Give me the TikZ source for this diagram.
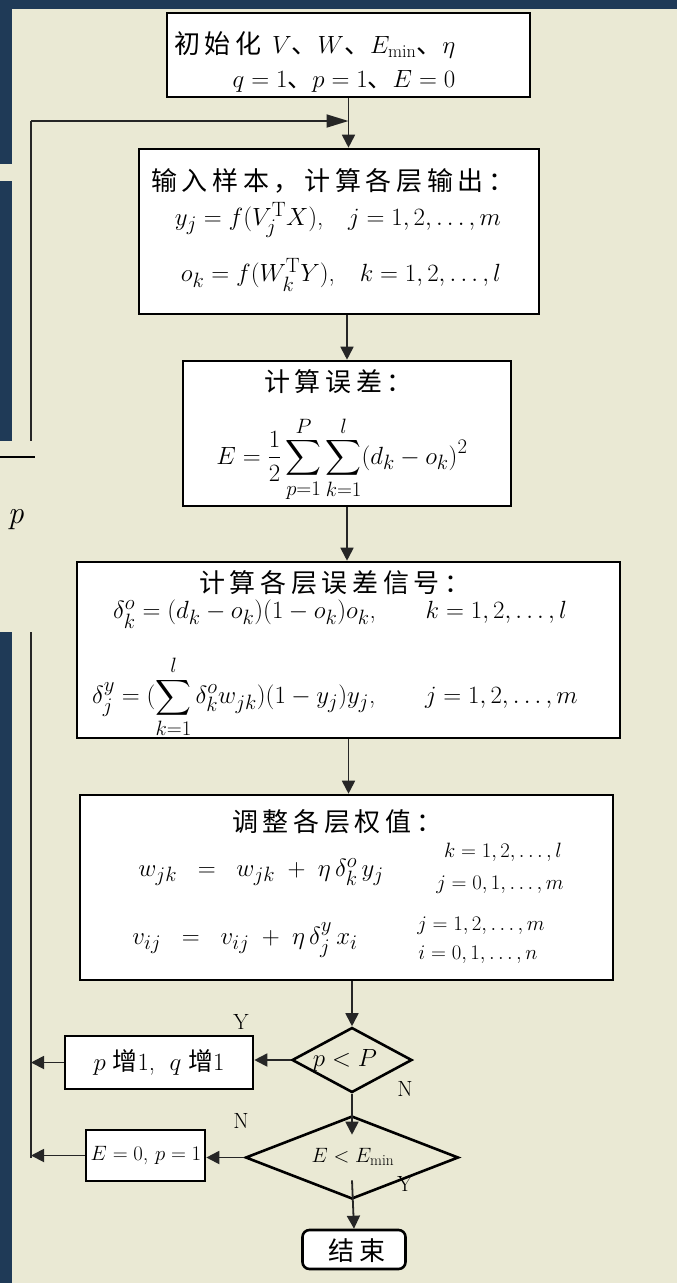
\documentclass[tikz,border=0pt]{standalone}
\usepackage{amsmath}
\usepackage{amsfonts}
\usepackage{fontspec}
\newfontfamily\cjk[LetterSpace=18]{Noto Sans CJK SC}
\usetikzlibrary{arrows.meta,shapes.geometric}
\definecolor{slide}{RGB}{234,233,212}
\definecolor{navy}{RGB}{31,58,87}
\newcommand{\dun}{{\cjk 、}}

\begin{document}
\begin{tikzpicture}[x=1pt, y=-1pt,
  box/.style={draw, line width=2.6pt, fill=white, inner sep=0pt},
  dec/.style={diamond, draw, line width=2.6pt, inner sep=0pt},
  arr/.style={-{Triangle[length=13pt,width=13pt]}, line width=1.8pt, black!85},
  line/.style={line width=1.8pt, draw=black!85},
  txt/.style={inner sep=0pt, font=\fontsize{24.88}{28}\selectfont},
  cond/.style={inner sep=0pt, font=\fontsize{22}{24}\selectfont},
  hd/.style={inner sep=0pt, anchor=west, font=\fontsize{26}{30}\selectfont\cjk},
  lbl/.style={inner sep=0pt, font=\fontsize{22}{24}\selectfont}]

% slide behind the chart
\useasboundingbox (0,0) rectangle (677,1283);
\fill[slide] (0,0) rectangle (677,1283);
\fill[navy] (0,0) rectangle (677,9);
\fill[navy] (0,0) rectangle (12,164);
\fill[navy] (0,181) rectangle (12,441);
\fill[navy] (0,632) rectangle (12,1283);

% boxes
\node[box, minimum width=363pt, minimum height=84pt]  (init)  at (348.5,55)   {};
\node[box, minimum width=400pt, minimum height=165pt] (fwd)   at (339,231.5)  {};
\node[box, minimum width=328pt, minimum height=145pt] (err)   at (347,433.5)  {};
\node[box, minimum width=543pt, minimum height=176pt] (sig)   at (348.5,650)  {};
\node[box, minimum width=533pt, minimum height=185pt] (upd)   at (346.5,887.5) {};
\node[dec, minimum width=120pt, minimum height=65pt]  (d1)    at (352,1060)   {};
\node[dec, minimum width=213pt, minimum height=83pt]  (d2)    at (352,1157.5) {};
\node[box, minimum width=188pt, minimum height=53pt]  (inc)   at (159,1062.5) {};
\node[box, minimum width=119pt, minimum height=51pt]  (reset) at (145.5,1155.5) {};
\node[box, rounded corners=7pt, minimum width=103pt, minimum height=39pt] (stop) at (354,1249.5) {};

% texts
\node[hd]  (init1) at (174,45)  {初始化 $V$、$W$、$E_{\min}$、$\eta$};
\node[txt] (init2) at (344,81)  {$q=1$\dun$p=1$\dun$E=0$};
\node[hd]  (fwd1)  at (151,181) {输入样本，计算各层输出：};
\node[txt] (fwd2)  at (338,220) {$y_j=f(V_j^{\mathrm{T}}X)$,\quad $j=1,2,\ldots,m$};
\node[txt] (fwd3)  at (341,275) {$o_k=f(W_k^{\mathrm{T}}Y)$,\quad $k=1,2,\ldots,l$};
\node[hd]  (err1)  at (264,382) {计算误差：};
\node[txt] (err2)  at (342,459) {$E=\dfrac{1}{2}\displaystyle\sum_{p=1}^{P}\sum_{k=1}^{l}(d_k-o_k)^2$};
\node[hd]  (sig1)  at (199,583) {计算各层误差信号：};
\node[txt] (sig2)  at (340,614) {$\delta_k^o=(d_k-o_k)(1-o_k)o_k$,\qquad $k=1,2,\ldots,l$};
\node[txt] (sig3)  at (335,697) {$\delta_j^y=(\displaystyle\sum_{k=1}^{l}\delta_k^o w_{jk})(1-y_j)y_j$,\qquad $j=1,2,\ldots,m$};
\node[hd]  (upd1)  at (232,822) {调整各层权值：};
\node[txt] (upd2)  at (261,872) {$w_{jk}\;\;=\;\;w_{jk}\;+\;\eta\,\delta_k^o\,y_j$};
\node[cond] (upd2a) at (503,852) {$k=1,2,\ldots,l$};
\node[cond] (upd2b) at (500,885) {$j=0,1,\ldots,m$};
\node[txt] (upd3)  at (245,940) {$v_{ij}\;\;=\;\;v_{ij}\;+\;\eta\,\delta_j^y\,x_i$};
\node[cond] (upd3a) at (481,926) {$j=1,2,\ldots,m$};
\node[cond] (upd3b) at (478,955) {$i=0,1,\ldots,n$};
\node[txt] (d1t)   at (345,1060) {$p<P$};
\node[cond] (d2t)  at (353,1157) {$E<E_{\min}$};
\node[txt] (inct)  at (159,1062) {$p$\;{\cjk 增}$1$,\; $q$\;{\cjk 增}$1$};
\node[cond] (rstt) at (146,1156) {$E=0$, $p=1$};
\node[inner sep=0pt, font=\fontsize{26}{30}\selectfont\cjk] (stopt) at (357,1251) {结束};
\node[lbl] (y1) at (241,1022) {Y};
\node[lbl] (n1) at (405,1089) {N};
\node[lbl] (n2) at (241,1121) {N};
\node[lbl] (y2) at (405,1184) {Y};

% loop back
\coordinate (fbtop) at (31,121);
\coordinate (fbbot) at (31,1158);
\coordinate (join)  at (348.5,121);
\draw[line] (fbbot) -- (fbtop);
\draw[line, -{Triangle[length=22pt,width=13pt]}] (fbtop) -- (join);

% connectors
\path[arr]
  (init.south) edge (init.south |- fwd.north)
  (err.north |- fwd.south) edge (err.north)
  (err.south) edge (err.south |- sig.north)
  (sig.south) edge (sig.south |- upd.north)
  (d1.north |- upd.south) edge (d1.north)
  (d1.south) edge ([yshift=-20pt]d2.north)
  ([yshift=20pt]d2.south) edge (stop.north)
  (d1.west) edge (d1.west -| inc.east)
  (d2.west) edge (d2.west -| reset.east)
  (inc.west) edge (inc.west -| fbtop)
  (reset.west) edge (reset.west -| fbtop);

% piece of the slide over the line
\fill[slide] (0,441) rectangle (36,632);
\draw[line width=2pt] (0,457) -- (35,457);
\node[inner sep=0pt, font=\fontsize{32}{32}\selectfont\itshape] (pv) at (16,520) {p};
\end{tikzpicture}
\end{document}
